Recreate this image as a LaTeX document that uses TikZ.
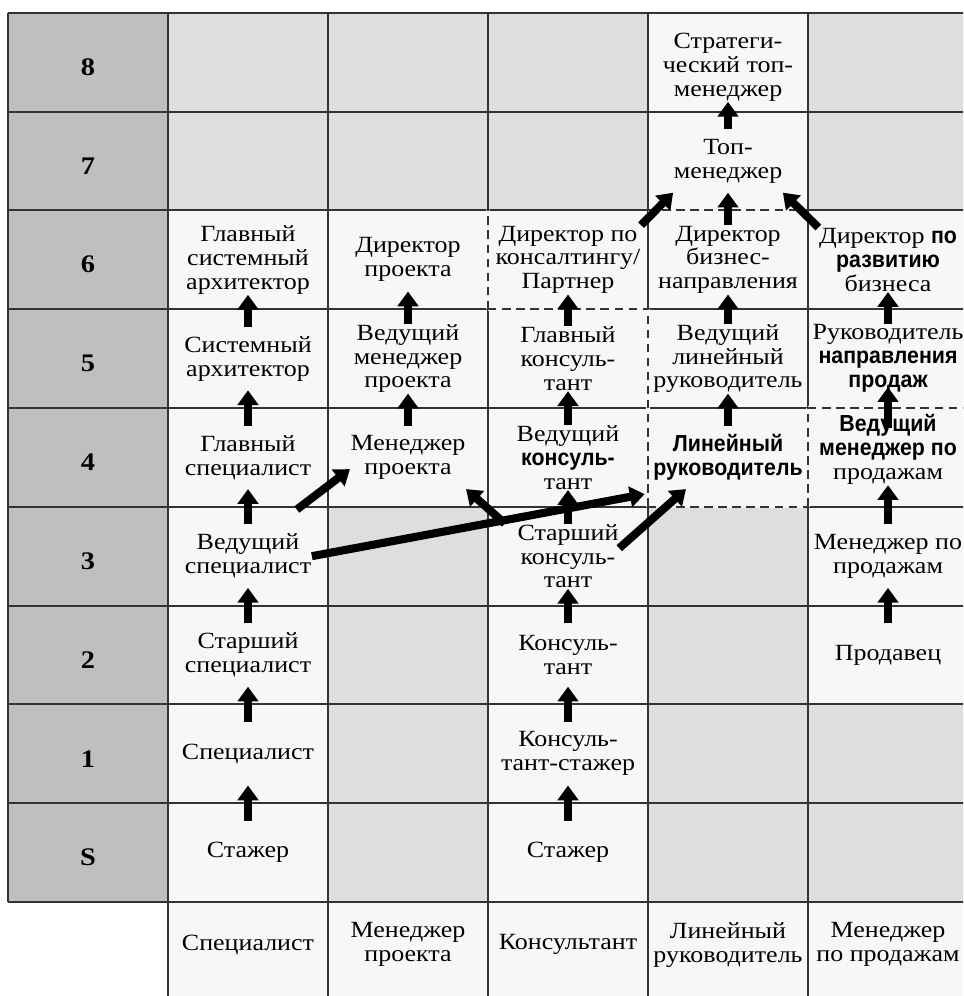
\documentclass[tikz,border=0pt]{standalone}
\usepackage{fontspec}
\setmainfont{Liberation Serif}[FakeStretch=1.12]
\setsansfont{Liberation Sans}[FakeStretch=0.92]
\usepackage{tikz}
\usetikzlibrary{arrows.meta}
\usetikzlibrary{calc}
\usetikzlibrary{positioning}
\definecolor{lvlgray}{gray}{0.75}
\definecolor{cellgray}{gray}{0.87}
\definecolor{cellwhite}{gray}{0.97}
\newcommand{\fett}[1]{{\sffamily\bfseries #1}}

\begin{document}
\begin{tikzpicture}[
  x=1.6cm, y=0.988cm,
  > = {Triangle[width=5.8pt,length=4.2pt]},
  job/.style = {align=center, inner sep=0pt, minimum height=0.62cm, font=\fontsize{6.6}{6.8}\selectfont},
  lvl/.style = {font=\fontsize{7.2}{8}\selectfont\bfseries},
  up/.style = {->, line width=2.3pt},
  grid/.style = {line width=0.55pt, black!80},
  dashgrid/.style = {line width=0.55pt, black!80, dash pattern=on 2.4pt off 1.6pt}
  ]
	\useasboundingbox (-0.05,-0.9514) rectangle (5.96875,9.1296);
	\clip (-0.05,-0.9514) rectangle (5.96875,9.1296);

	% Felder
	\fill[lvlgray] (0,0) rectangle (1,9);
	\fill[cellgray] (1,0) rectangle (6,9);
	\foreach \c/\a/\b in {1/0/7, 2/4/7, 3/0/7, 4/4/9, 5/2/7}
		\fill[cellwhite] (\c,\a) rectangle (\c+1,\b);
	\fill[cellwhite] (1,-1) rectangle (6,0);

	% Linien
	\foreach \r in {0,...,9}
		\draw[grid] (0,\r) -- (6,\r);
	\draw[grid] (0,0) -- (0,9);
	\foreach \c in {1,...,5}
		\draw[grid] (\c,-1) -- (\c,9);
	\draw[cellwhite, line width=0.9pt] (3,6) -- (3,7) (3,6) -- (4,6) (4,7) -- (5,7) (4,4) -- (4,6) (5,4) -- (5,5) (4,4) -- (5,4) (5,5) -- (6,5);
	\draw[dashgrid] (3,6) -- (3,7) (3,6) -- (4,6) (4,7) -- (5,7) (4,4) -- (4,6) (5,4) -- (5,5) (4,4) -- (5,4) (5,5) -- (6,5);

	% Stufen
	\foreach \r/\t in {0/S,1/1,2/2,3/3,4/4,5/5,6/6,7/7,8/8}
		\node[lvl] (lv\r) at (0.5,\r+.45) {\t};

	% Specialist
	\node[job] (sp0) at (1.5,0.5) {Стажер};
	\node[job] (sp1) at (1.5,1.5) {Специалист};
	\node[job] (sp2) at (1.5,2.5) {Старший\\специалист};
	\node[job] (sp3) at (1.5,3.5) {Ведущий\\специалист};
	\node[job] (sp4) at (1.5,4.5) {Главный\\специалист};
	\node[job] (sp5) at (1.5,5.5) {Системный\\архитектор};
	\node[job] (sp6) at (1.5,6.5) {Главный\\системный\\архитектор};

	% Project manager
	\node[job] (pm4) at (2.5,4.5) {Менеджер\\проекта};
	\node[job] (pm5) at (2.5,5.5) {Ведущий\\менеджер\\проекта};
	\node[job] (pm6) at (2.5,6.5) {Директор\\проекта};

	% Consultant
	\node[job] (ks0) at (3.5,0.5) {Стажер};
	\node[job] (ks1) at (3.5,1.5) {Консуль-\\тант-стажер};
	\node[job] (ks2) at (3.5,2.5) {Консуль-\\тант};
	\node[job] (ks3) at (3.5,3.5) {Старший\\консуль-\\тант};
	\node[job] (ks4) at (3.5,4.5) {Ведущий\\\fett{консуль-}\\тант};
	\node[job] (ks5) at (3.5,5.5) {Главный\\консуль-\\тант};
	\node[job] (ks6) at (3.5,6.5) {Директор по\\консалтингу/\\Партнер};

	% Line manager
	\node[job] (lr4) at (4.5,4.5) {\fett{Линейный}\\\fett{руководитель}};
	\node[job] (lr5) at (4.5,5.5) {Ведущий\\линейный\\руководитель};
	\node[job] (lr6) at (4.5,6.5) {Директор\\бизнес-\\направления};
	\node[job] (lr7) at (4.5,7.5) {Топ-\\менеджер};
	\node[job] (lr8) at (4.5,8.45) {Стратеги-\\ческий топ-\\менеджер};

	% Sales
	\node[job] (mz2) at (5.5,2.5) {Продавец};
	\node[job] (mz3) at (5.5,3.5) {Менеджер по\\продажам};
	\node[job] (mz4) at (5.5,4.58) {\fett{Ведущий}\\\fett{менеджер по}\\продажам};
	\node[job] (mz5) at (5.5,5.5) {Руководитель\\\fett{направления}\\\fett{продаж}};
	\node[job] (mz6) at (5.5,6.5) {Директор \fett{по}\\\fett{развитию}\\бизнеса};

	% Spalten
	\node[job] (h1) at (1.5,-0.433) {Специалист};
	\node[job] (h2) at (2.5,-0.433) {Менеджер\\проекта};
	\node[job] (h3) at (3.5,-0.433) {Консультант};
	\node[job] (h4) at (4.5,-0.433) {Линейный\\руководитель};
	\node[job] (h5) at (5.5,-0.433) {Менеджер\\по продажам};

	\foreach \a/\b in {sp0/sp1,sp1/sp2,sp2/sp3,sp3/sp4,sp4/sp5,sp5/sp6,
	                   pm4/pm5,pm5/pm6,
	                   ks0/ks1,ks1/ks2,ks2/ks3,ks3/ks4,ks4/ks5,ks5/ks6,
	                   lr4/lr5,lr5/lr6,lr6/lr7,lr7/lr8,
	                   mz2/mz3,mz3/mz4,mz5/mz6}
		\draw[up] (\a) -- (\b);
	\draw[up, shorten <=-0.14cm, shorten >=-0.06cm] (mz4) -- (mz5);

	\draw[up] ([xshift=-0.15cm,yshift=0.15cm]sp3.north east) -- ([yshift=0.2cm]pm4.south west);
	\draw[up] (sp3.east) -- ([xshift=-0.08cm,yshift=-0.05cm]lr4.south west);
	\draw[up] ([xshift=-0.12cm]ks3.north west) -- (pm4.south east);
	\draw[up] ([yshift=0.08cm]ks3.east) -- (lr4.217);
	\draw[up] (ks6.north east) -- (lr7.south west);
	\draw[up] (mz6.north west) -- (lr7.south east);

\end{tikzpicture}
\end{document}
